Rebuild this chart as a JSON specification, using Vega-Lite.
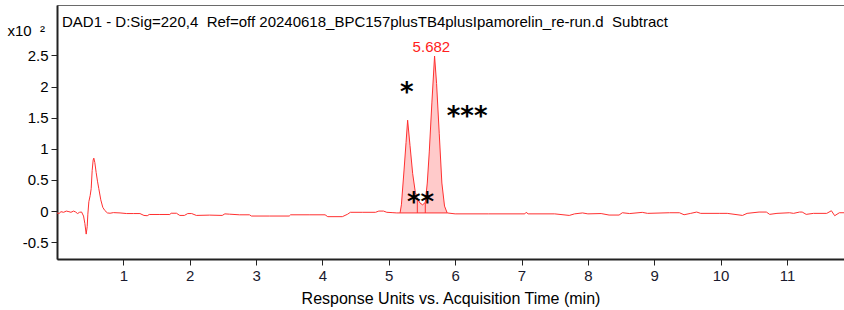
{
  "$schema": "https://vega.github.io/schema/vega-lite/v6.json",
  "width": 787,
  "height": 254,
  "autosize": "none",
  "padding": {"left": 57, "top": 5, "right": 0, "bottom": 51},
  "background": "white",
  "config": {
    "view": {"stroke": "#6a6a6a", "strokeWidth": 1},
    "font": "Liberation Sans",
    "axis": {"labelFont": "Liberation Sans", "titleFont": "Liberation Sans", "grid": false}
  },
  "datasets": {
    "trace": [
      {"t":0.00,"v":-0.03},{"t":0.03,"v":-0.04},{"t":0.06,"v":-0.01},{"t":0.10,"v":-0.02},{"t":0.14,"v":0.0},{"t":0.18,"v":-0.01},{"t":0.21,"v":-0.02},{"t":0.25,"v":0.0},{"t":0.28,"v":-0.015},{"t":0.31,"v":-0.04},{"t":0.34,"v":-0.02},{"t":0.37,"v":-0.015},{"t":0.40,"v":-0.08},{"t":0.42,"v":-0.2},{"t":0.44,"v":-0.37},{"t":0.455,"v":-0.25},{"t":0.465,"v":-0.05},{"t":0.48,"v":0.15},{"t":0.50,"v":0.25},{"t":0.515,"v":0.36},{"t":0.53,"v":0.65},{"t":0.545,"v":0.82},{"t":0.555,"v":0.85},{"t":0.57,"v":0.78},{"t":0.59,"v":0.62},{"t":0.61,"v":0.48},{"t":0.63,"v":0.36},{"t":0.66,"v":0.18},{"t":0.69,"v":0.06},{"t":0.72,"v":0.01},{"t":0.76,"v":-0.03},{"t":0.80,"v":-0.035},{"t":0.85,"v":-0.025},{"t":0.95,"v":-0.03},{"t":1.05,"v":-0.04},{"t":1.15,"v":-0.04},{"t":1.25,"v":-0.04},{"t":1.31,"v":-0.07},{"t":1.36,"v":-0.075},{"t":1.39,"v":-0.055},{"t":1.55,"v":-0.055},{"t":1.70,"v":-0.055},{"t":1.72,"v":-0.035},{"t":1.80,"v":-0.035},{"t":1.85,"v":-0.07},{"t":1.92,"v":-0.07},{"t":1.97,"v":-0.04},{"t":2.03,"v":-0.04},{"t":2.10,"v":-0.07},{"t":2.30,"v":-0.065},{"t":2.49,"v":-0.07},{"t":2.53,"v":-0.045},{"t":2.60,"v":-0.05},{"t":2.75,"v":-0.06},{"t":2.90,"v":-0.06},{"t":2.93,"v":-0.08},{"t":3.20,"v":-0.08},{"t":3.50,"v":-0.08},{"t":3.52,"v":-0.06},{"t":3.80,"v":-0.06},{"t":4.04,"v":-0.06},{"t":4.08,"v":-0.09},{"t":4.30,"v":-0.09},{"t":4.38,"v":-0.05},{"t":4.42,"v":-0.02},{"t":4.60,"v":-0.02},{"t":4.80,"v":-0.02},{"t":4.85,"v":0.0},{"t":4.92,"v":0.0},{"t":4.97,"v":-0.02},{"t":5.05,"v":-0.025},{"t":5.12,"v":-0.03},
      {"t":5.17,"v":-0.03},{"t":5.19,"v":0.1},{"t":5.23,"v":0.66},{"t":5.26,"v":1.1},{"t":5.284,"v":1.46},{"t":5.32,"v":1.05},{"t":5.36,"v":0.6},{"t":5.40,"v":0.3},{"t":5.43,"v":0.2},{"t":5.47,"v":0.13},{"t":5.51,"v":0.10},{"t":5.55,"v":0.14},{"t":5.58,"v":0.45},{"t":5.61,"v":0.95},{"t":5.65,"v":1.75},{"t":5.69,"v":2.49},{"t":5.72,"v":2.05},{"t":5.76,"v":1.25},{"t":5.80,"v":0.45},{"t":5.84,"v":0.08},{"t":5.88,"v":-0.03},
      {"t":6.0,"v":-0.045},{"t":6.5,"v":-0.045},{"t":7.05,"v":-0.045},{"t":7.07,"v":-0.02},{"t":7.10,"v":-0.045},{"t":7.50,"v":-0.045},{"t":7.72,"v":-0.07},{"t":7.80,"v":-0.045},{"t":7.92,"v":-0.03},{"t":8.0,"v":-0.045},{"t":8.20,"v":-0.04},{"t":8.32,"v":-0.064},{"t":8.47,"v":-0.064},{"t":8.52,"v":-0.027},{"t":8.63,"v":-0.04},{"t":8.82,"v":-0.021},{"t":8.9,"v":-0.037},{"t":9.23,"v":-0.027},{"t":9.38,"v":-0.027},{"t":9.45,"v":-0.059},{"t":9.55,"v":-0.037},{"t":9.64,"v":-0.016},{"t":9.70,"v":-0.037},{"t":9.98,"v":-0.037},{"t":10.1,"v":-0.037},{"t":10.33,"v":-0.07},{"t":10.40,"v":-0.037},{"t":10.58,"v":-0.016},{"t":10.69,"v":-0.016},{"t":10.74,"v":-0.053},{"t":10.85,"v":-0.037},{"t":11.04,"v":-0.027},{"t":11.10,"v":-0.037},{"t":11.19,"v":-0.016},{"t":11.23,"v":-0.016},{"t":11.29,"v":-0.053},{"t":11.40,"v":-0.037},{"t":11.60,"v":-0.037},{"t":11.67,"v":0.005},{"t":11.72,"v":-0.075},{"t":11.79,"v":-0.027},{"t":11.86,"v":-0.027}
    ],
    "drops": [
      {"t":5.43,"v":0.2,"b":-0.03},{"t":5.55,"v":0.14,"b":-0.03}
    ],
    "base": [
      {"t":5.17,"t2":5.88,"v":-0.03}
    ],
    "labels": [
      {"t":5.642,"v":2.5,"text":"5.682"}
    ],
    "stars": [
      {"t":5.27,"v":2.02,"text":"*"},
      {"t":6.18,"v":1.64,"text":"***"},
      {"t":5.478,"v":0.26,"text":"**"}
    ],
    "header": [
      {"t":0.075,"v":3.04,"text":"DAD1 - D:Sig=220,4\u00a0\u00a0Ref=off 20240618_BPC157plusTB4plusIpamorelin_re-run.d\u00a0\u00a0Subtract"}
    ]
  },
  "layer": [
    {
      "data": {"name": "trace"},
      "transform": [{"filter": "datum.t >= 5.17 && datum.t <= 5.88"}],
      "mark": {"type": "area", "color": "#ffcaca", "opacity": 1},
      "encoding": {
        "x": {"field": "t", "type": "quantitative", "scale": {"domain": [0, 11.86], "nice": false, "zero": false},
          "axis": {"values": [1,2,3,4,5,6,7,8,9,10,11], "labelExpr": "'' + datum.value", "title": "Response Units vs. Acquisition Time (min)",
            "domainColor": "#222222", "domainWidth": 2, "tickColor": "#222222", "tickSize": 6, "labelColor": "#1a1a2e", "labelFontSize": 15, "labelPadding": 3,
            "titleFontSize": 16, "titleFontWeight": "normal", "titleColor": "#000000", "titlePadding": 7}},
        "y": {"field": "v", "type": "quantitative", "scale": {"domain": [-0.77, 3.31], "nice": false, "zero": false},
          "axis": {"values": [-0.5,0,0.5,1,1.5,2,2.5], "labelExpr": "'' + datum.value", "title": "x10\u00a0\u00a0\u00b2",
            "titleAngle": 0, "titleAlign": "left", "titleBaseline": "middle", "titleX": -50, "titleY": 25, "titleFontSize": 15, "titleFontWeight": "normal", "titleColor": "#000000",
            "domainColor": "#222222", "domainWidth": 2, "tickColor": "#222222", "tickSize": 6, "labelColor": "#000000", "labelFontSize": 15, "labelPadding": 3}},
        "y2": {"datum": -0.03}
      }
    },
    {
      "data": {"name": "base"},
      "mark": {"type": "rule", "color": "#ff3030", "strokeWidth": 1},
      "encoding": {"x": {"field": "t", "type": "quantitative"}, "x2": {"field": "t2"}, "y": {"field": "v", "type": "quantitative"}}
    },
    {
      "data": {"name": "drops"},
      "mark": {"type": "rule", "color": "#ff3030", "strokeWidth": 1},
      "encoding": {"x": {"field": "t", "type": "quantitative"}, "y": {"field": "v", "type": "quantitative"}, "y2": {"field": "b"}}
    },
    {
      "data": {"name": "trace"},
      "mark": {"type": "line", "color": "#ff3030", "strokeWidth": 1},
      "encoding": {"x": {"field": "t", "type": "quantitative"}, "y": {"field": "v", "type": "quantitative"}}
    },
    {
      "data": {"name": "labels"},
      "mark": {"type": "text", "color": "#ff2020", "fontSize": 15, "baseline": "bottom", "align": "center", "dy": 0},
      "encoding": {"x": {"field": "t", "type": "quantitative"}, "y": {"field": "v", "type": "quantitative"}, "text": {"field": "text"}}
    },
    {
      "data": {"name": "stars"},
      "mark": {"type": "text", "color": "#000000", "fontSize": 26, "font": "DejaVu Sans", "fontWeight": "bold", "baseline": "middle", "align": "center", "dy": 8},
      "encoding": {"x": {"field": "t", "type": "quantitative"}, "y": {"field": "v", "type": "quantitative"}, "text": {"field": "text"}}
    },
    {
      "data": {"name": "header"},
      "mark": {"type": "text", "color": "#000000", "fontSize": 15, "baseline": "middle", "align": "left"},
      "encoding": {"x": {"field": "t", "type": "quantitative"}, "y": {"field": "v", "type": "quantitative"}, "text": {"field": "text"}}
    }
  ]
}
